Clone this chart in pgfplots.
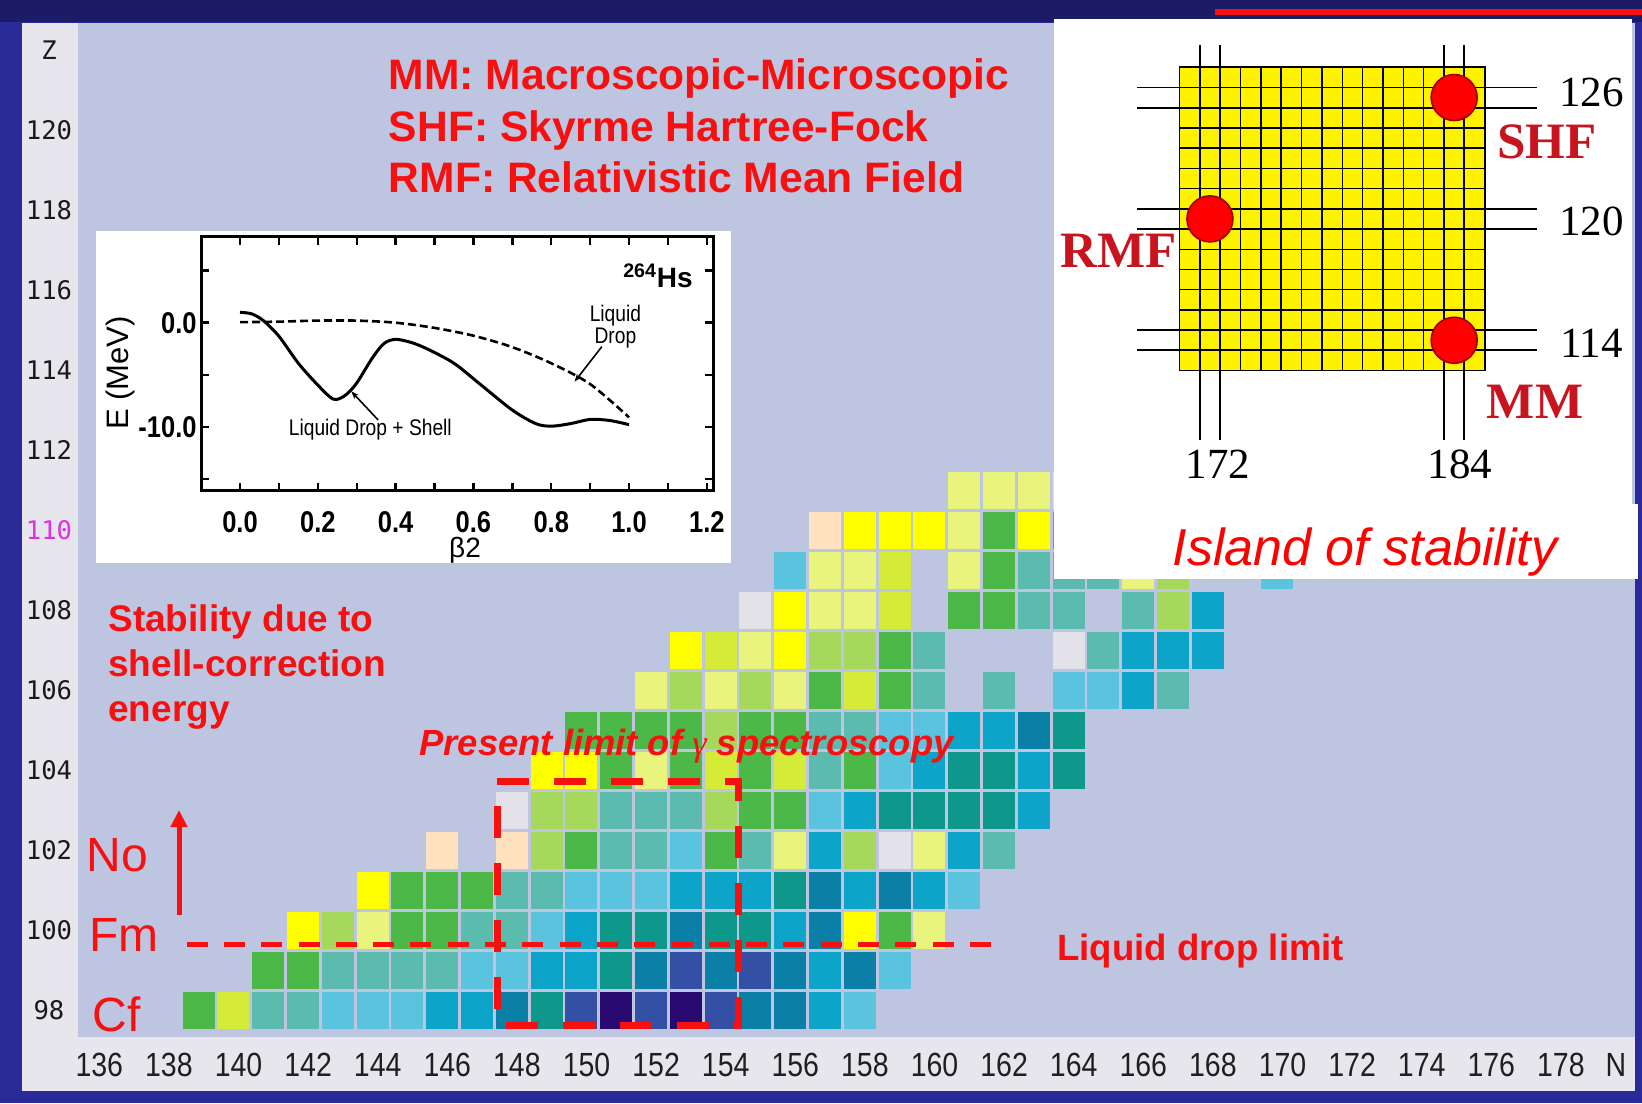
\documentclass[border=0pt]{standalone}
\usepackage{pgfplots}
\pgfplotsset{compat=1.18}
\usepackage{fontspec}
\setmainfont{Liberation Sans}
\newfontfamily\serifrm{Liberation Serif}
\newfontfamily\narrow{Liberation Sans}[FakeStretch=0.85]
\newfontfamily\monof{DejaVu Sans Mono}
\usetikzlibrary{arrows.meta}

\definecolor{cY}{HTML}{FFFF00}
\definecolor{cLY}{HTML}{E8F47C}
\definecolor{cYG}{HTML}{D4EC38}
\definecolor{cLG}{HTML}{A6D85C}
\definecolor{cG}{HTML}{4CB848}
\definecolor{cT}{HTML}{5CBBAF}
\definecolor{cC}{HTML}{5AC4DE}
\definecolor{cB}{HTML}{0CA4C8}
\definecolor{cDT}{HTML}{0E988C}
\definecolor{cDB}{HTML}{0A80A6}
\definecolor{cN}{HTML}{3450A4}
\definecolor{cP}{HTML}{280A70}
\definecolor{cW}{HTML}{E2E2E8}
\definecolor{cPE}{HTML}{FFE2C0}
\definecolor{bgc}{HTML}{BEC5E1}
\definecolor{stripc}{HTML}{E6E6EC}
\definecolor{framec}{HTML}{2A2A98}
\definecolor{frametop}{HTML}{1C1C66}
\definecolor{txtred}{HTML}{F81010}
\definecolor{islred}{HTML}{C8141E}
\definecolor{zmag}{HTML}{E030E0}
\definecolor{darkred}{HTML}{A00000}

\pgfdeclareplotmark{cell}{\pgfpathrectangle{\pgfpoint{-8pt}{-9.25pt}}{\pgfpoint{16pt}{18.5pt}}\pgfusepathqfill}

\begin{document}
\begin{tikzpicture}[x=1pt,y=1pt]
\path[use as bounding box] (0,0) rectangle (821,551.5);
% frame and background
\fill[framec] (0,0) rectangle (821,551.5);
\fill[frametop] (0,540.5) rectangle (821,551.5);
\fill[txtred] (607.5,544) rectangle (821,547);
\fill[bgc] (11,6) rectangle (817.5,540);
\fill[stripc] (11,6) rectangle (39,540);
\fill[stripc] (11,6) rectangle (817.5,33);

% main nuclide chart
\begin{axis}[at={(39pt,33pt)}, anchor=south west, scale only axis,
  width=778.5pt, height=507pt,
  xmin=135.537, xmax=180.279, ymin=97.3375, ymax=122.6875,
  axis line style={draw=none}, major tick length=0pt, minor tick length=0pt,
  xtick={136,138,140,142,144,146,148,150,152,154,156,158,160,162,164,166,168,170,172,174,176,178,179.58},
  xticklabels={136,138,140,142,144,146,148,150,152,154,156,158,160,162,164,166,168,170,172,174,176,178,N},
  ytick={98,100,102,104,106,108,110,112,114,116,118,120,122},
  yticklabels={98,100,102,104,106,108,{\textcolor{zmag}{110}},112,114,116,118,120,Z},
  xticklabel style={anchor=center, yshift=-14pt, xshift=2.6pt, text=black!88, font={\narrow\fontsize{16.75}{17}\selectfont}},
  yticklabel style={anchor=center, xshift=-14.5pt, text=black!90, font={\monof\fontsize{12.8}{13}\selectfont}},
  clip=false]
\addplot[only marks, mark=cell, color=cY, forget plot] coordinates {(142,100)(158,100)(144,101)(149,104)(150,104)(153,107)(156,107)(156,108)(158,110)(159,110)(160,110)(163,110)};
\addplot[only marks, mark=cell, color=cLY, forget plot] coordinates {(144,100)(160,100)(156,102)(160,102)(152,104)(152,106)(154,106)(156,106)(155,107)(157,108)(158,108)(157,109)(158,109)(161,109)(166,109)(161,110)(161,111)(162,111)(163,111)(164,111)};
\addplot[only marks, mark=cell, color=cYG, forget plot] coordinates {(140,98)(154,104)(156,104)(158,106)(154,107)(159,108)(159,109)};
\addplot[only marks, mark=cell, color=cLG, forget plot] coordinates {(143,100)(149,102)(158,102)(149,103)(150,103)(154,103)(154,105)(153,106)(155,106)(157,107)(158,107)(167,108)(167,109)};
\addplot[only marks, mark=cell, color=cG, forget plot] coordinates {(139,98)(141,99)(142,99)(145,100)(146,100)(159,100)(145,101)(146,101)(147,101)(150,102)(154,102)(155,103)(156,103)(151,104)(153,104)(155,104)(158,104)(150,105)(151,105)(152,105)(153,105)(155,105)(156,105)(157,106)(159,106)(159,107)(161,108)(162,108)(162,109)(162,110)(164,110)};
\addplot[only marks, mark=cell, color=cT, forget plot] coordinates {(141,98)(142,98)(143,99)(144,99)(145,99)(146,99)(147,100)(148,100)(148,101)(149,101)(151,102)(152,102)(155,102)(162,102)(151,103)(152,103)(153,103)(157,104)(157,105)(158,105)(160,106)(162,106)(167,106)(160,107)(165,107)(163,108)(164,108)(166,108)(163,109)(164,109)(165,109)};
\addplot[only marks, mark=cell, color=cC, forget plot] coordinates {(143,98)(144,98)(145,98)(158,98)(147,99)(148,99)(159,99)(149,100)(150,101)(151,101)(152,101)(161,101)(153,102)(157,103)(159,104)(159,105)(160,105)(164,106)(165,106)(156,109)(170,109)};
\addplot[only marks, mark=cell, color=cB, forget plot] coordinates {(146,98)(147,98)(157,98)(149,99)(150,99)(157,99)(150,100)(156,100)(153,101)(154,101)(155,101)(158,101)(160,101)(157,102)(161,102)(158,103)(163,103)(160,104)(163,104)(161,105)(162,105)(166,106)(166,107)(167,107)(168,107)(168,108)};
\addplot[only marks, mark=cell, color=cDT, forget plot] coordinates {(149,98)(151,99)(151,100)(152,100)(154,100)(155,100)(156,101)(159,103)(160,103)(161,103)(162,103)(161,104)(162,104)(164,104)(164,105)};
\addplot[only marks, mark=cell, color=cDB, forget plot] coordinates {(148,98)(155,98)(156,98)(152,99)(154,99)(156,99)(158,99)(153,100)(157,100)(157,101)(159,101)(163,105)};
\addplot[only marks, mark=cell, color=cN, forget plot] coordinates {(150,98)(152,98)(154,98)(153,99)(155,99)};
\addplot[only marks, mark=cell, color=cP, forget plot] coordinates {(151,98)(153,98)};
\addplot[only marks, mark=cell, color=cW, forget plot] coordinates {(159,102)(148,103)(164,107)(155,108)};
\addplot[only marks, mark=cell, color=cPE, forget plot] coordinates {(146,102)(148,102)(157,110)};
\end{axis}

% red annotations on the chart
\draw[txtred, line width=2.5pt, dash pattern=on 10.5pt off 8.15pt] (93.3,79.25) -- (495.5,79.25);
\draw[txtred, line width=3.5pt, dash pattern=on 16pt off 12.5pt] (248.5,160.5) -- (369,160.5) -- (369,39) -- (248.5,39) -- cycle;
\draw[txtred, line width=2.5pt, -{Triangle[width=8pt,length=8.5pt]}] (89.5,94) -- (89.5,146.5);
\node[anchor=base west, inner sep=0, text=txtred, font={\fontsize{24}{26}\selectfont}] at (43,116) {No};
\node[anchor=base west, inner sep=0, text=txtred, font={\fontsize{24}{26}\selectfont}] at (44.5,76) {Fm};
\node[anchor=base west, inner sep=0, text=txtred, font={\fontsize{24}{26}\selectfont}] at (46,36) {Cf};
\node[anchor=base west, inner sep=0, text=txtred, font={\bfseries\fontsize{18.5}{20}\selectfont}] at (54,235.5) {Stability due to};
\node[anchor=base west, inner sep=0, text=txtred, font={\bfseries\fontsize{18.5}{20}\selectfont}] at (54,213) {shell-correction};
\node[anchor=base west, inner sep=0, text=txtred, font={\bfseries\fontsize{18.5}{20}\selectfont}] at (54,190.5) {energy};
\node[anchor=base west, inner sep=0, text=txtred, font={\bfseries\itshape\fontsize{18.2}{20}\selectfont}] at (209.5,173.7) {Present limit of {\serifrm\mdseries\itshape γ} spectroscopy};
\node[anchor=base west, inner sep=0, text=txtred, font={\bfseries\fontsize{18.3}{20}\selectfont}] at (528.5,71.5) {Liquid drop limit};
\node[anchor=base west, inner sep=0, text=txtred, font={\bfseries\fontsize{21.3}{24}\selectfont}] at (194.25,506.5) {MM: Macroscopic-Microscopic};
\node[anchor=base west, inner sep=0, text=txtred, font={\bfseries\fontsize{21.3}{24}\selectfont}] at (194.25,480.5) {SHF: Skyrme Hartree-Fock};
\node[anchor=base west, inner sep=0, text=txtred, font={\bfseries\fontsize{21.3}{24}\selectfont}] at (194.25,455) {RMF: Relativistic Mean Field};

% energy inset
\fill[white] (48,270) rectangle (365.5,436);
\begin{axis}[at={(100.5pt,306pt)}, anchor=south west, scale only axis,
  width=256pt, height=127pt,
  xmin=-0.1003, xmax=1.2159, ymin=-16.18, ymax=8.24,
  axis line style={line width=1.5pt, black},
  tick align=inside, xtick pos=both, ytick pos=both,
  xtick={0,0.2,0.4,0.6,0.8,1.0,1.2},
  xticklabels={0.0,0.2,0.4,0.6,0.8,1.0,1.2},
  minor xtick={0.1,0.3,0.5,0.7,0.9,1.1},
  ytick={-15,-10,-5,0,5},
  yticklabels={,-10.0,,0.0,},
  major tick length=4pt, minor tick length=4pt,
  every tick/.style={line width=1.2pt, black},
  xticklabel style={anchor=center, yshift=-15.4pt, inner sep=0pt, font={\narrow\bfseries\fontsize{15}{15}\selectfont}},
  yticklabel style={anchor=east, xshift=-1pt, inner sep=1pt, font={\narrow\bfseries\fontsize{15}{15}\selectfont}},
  clip=false]
\addplot[black, line width=1.3pt, dash pattern=on 4pt off 2pt, smooth] coordinates {(0,0.05) (0.1,0.1) (0.2,0.2) (0.3,0.2) (0.4,0.0) (0.5,-0.5) (0.6,-1.25) (0.7,-2.35) (0.8,-3.9) (0.9,-5.9) (1.0,-9.1)};
\addplot[black, line width=1.5pt, smooth] coordinates {(0,1.0) (0.03,0.85) (0.06,0.2) (0.1,-1.3) (0.15,-3.9) (0.2,-6.0) (0.24,-7.35) (0.27,-7.0) (0.3,-5.8) (0.34,-3.4) (0.37,-2.0) (0.4,-1.6) (0.44,-1.9) (0.48,-2.5) (0.55,-3.9) (0.62,-6.0) (0.7,-8.4) (0.76,-9.7) (0.8,-9.95) (0.85,-9.7) (0.9,-9.3) (0.95,-9.4) (1.0,-9.8)};
\draw[black, line width=0.8pt, -{Stealth[length=4pt,width=3pt]}] (axis cs:0.355,-9.35) -- (axis cs:0.286,-6.6);
\draw[black, line width=0.8pt, -{Stealth[length=4pt,width=3pt]}] (axis cs:0.930,-2.31) -- (axis cs:0.860,-5.67);
\node[font={\narrow\fontsize{11.3}{12}\selectfont}] at (axis cs:0.335,-10.3) {Liquid Drop + Shell};
\node[align=center, font={\narrow\fontsize{11.3}{10}\selectfont}] at (axis cs:0.965,-0.4) {Liquid\\Drop};
\end{axis}
\node[font={\fontsize{15.5}{16}\selectfont}, rotate=90] at (60,365) {E (MeV)};
\node[inner sep=0pt, font={\fontsize{14}{15}\selectfont}] at (232.5,276.5) {β2};
\node[font={\bfseries\fontsize{14}{15}\selectfont}] at (329,413.5) {\textsuperscript{264}Hs};

% island of stability inset
\fill[white] (527,262) rectangle (816,542);
\fill[white] (527,262) rectangle (819,299.5);
\begin{axis}[at={(589.7pt,366.2pt)}, anchor=south west, scale only axis,
  width=152.65pt, height=151.7pt,
  xmin=170.5, xmax=185.5, ymin=112.5, ymax=127.5,
  axis background/.style={fill=yellow},
  xtick={171.5,172.5,173.5,174.5,175.5,176.5,177.5,178.5,179.5,180.5,181.5,182.5,183.5,184.5},
  ytick={113.5,114.5,115.5,116.5,117.5,118.5,119.5,120.5,121.5,122.5,123.5,124.5,125.5,126.5},
  xticklabels={}, yticklabels={},
  major tick length=0pt, grid=major, major grid style={black, line width=0.7pt},
  axis line style={black, line width=0.9pt}, clip=false]
\addplot[black, line width=0.9pt, forget plot] coordinates {(171.5,109.09) (171.5,128.58)};
\addplot[black, line width=0.9pt, forget plot] coordinates {(172.5,109.09) (172.5,128.58)};
\addplot[black, line width=0.9pt, forget plot] coordinates {(183.5,109.09) (183.5,128.58)};
\addplot[black, line width=0.9pt, forget plot] coordinates {(184.5,109.09) (184.5,128.58)};
\addplot[black, line width=0.9pt, forget plot] coordinates {(168.44,125.5) (188.06,125.5)};
\addplot[black, line width=0.9pt, forget plot] coordinates {(168.44,126.5) (188.06,126.5)};
\addplot[black, line width=0.9pt, forget plot] coordinates {(168.44,119.5) (188.06,119.5)};
\addplot[black, line width=0.9pt, forget plot] coordinates {(168.44,120.5) (188.06,120.5)};
\addplot[black, line width=0.9pt, forget plot] coordinates {(168.44,113.5) (188.06,113.5)};
\addplot[black, line width=0.9pt, forget plot] coordinates {(168.44,114.5) (188.06,114.5)};
\addplot[only marks, mark=*, mark size=11.5pt, mark options={fill=red, draw=darkred, line width=0.8pt}, forget plot] coordinates {(184,126) (172,120) (184,114)};
\end{axis}
\node[font={\serifrm\fontsize{21.5}{22}\selectfont}] at (795.75,505.25) {126};
\node[font={\serifrm\fontsize{21.5}{22}\selectfont}] at (795.75,440.6) {120};
\node[font={\serifrm\fontsize{21.5}{22}\selectfont}] at (795.75,379.8) {114};
\node[font={\serifrm\fontsize{21.5}{22}\selectfont}] at (609,319.5) {172};
\node[font={\serifrm\fontsize{21.5}{22}\selectfont}] at (730,319.5) {184};
\node[text=islred, font={\serifrm\bfseries\fontsize{25.5}{26}\selectfont}] at (773.5,480.75) {SHF};
\node[text=islred, font={\serifrm\bfseries\fontsize{25.5}{26}\selectfont}] at (559.5,426) {RMF};
\node[text=islred, font={\serifrm\bfseries\fontsize{25.5}{26}\selectfont}] at (767.5,350.5) {MM};
\node[anchor=base, inner sep=0, text=red, font={\itshape\fontsize{26}{28}\selectfont}] at (682.5,268.5) {Island of stability};
\end{tikzpicture}
\end{document}
